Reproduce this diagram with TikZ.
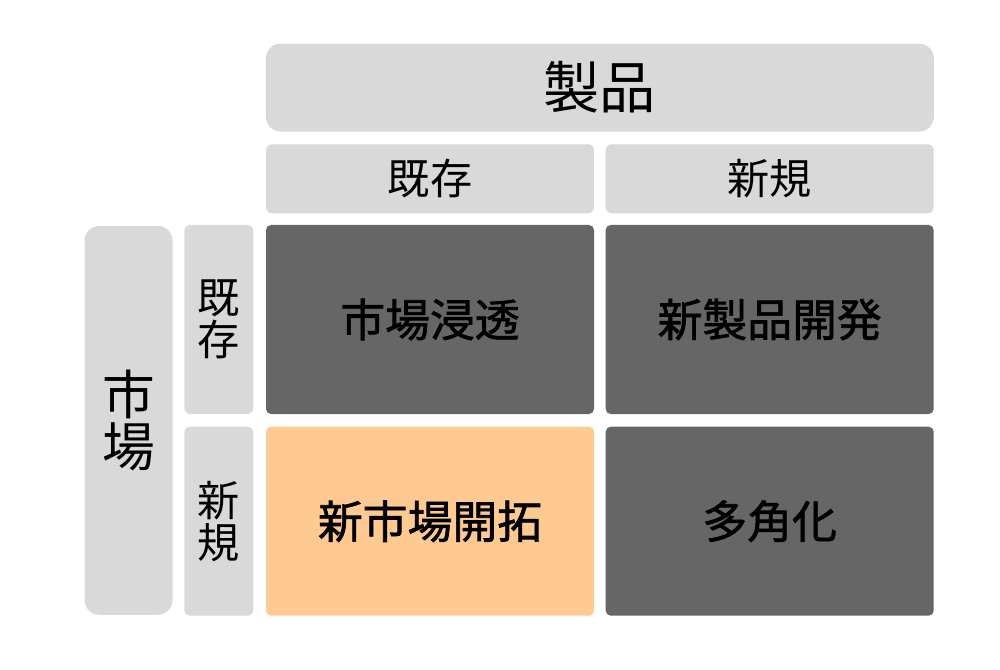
\documentclass[tikz,border=0pt]{standalone}
\usepackage{fontspec}
\setmainfont{Noto Sans CJK JP}
\newfontfamily\jpbold[FakeBold=1.5]{Noto Sans CJK JP}
\usepackage{tikz}
\usetikzlibrary{positioning, calc}
\definecolor{boxgray}{HTML}{D9D9D9}
\definecolor{celldark}{HTML}{666666}
\definecolor{cellorange}{HTML}{FFC992}
\tikzstyle{headbox} = [rectangle, fill=boxgray, inner sep=0pt, rounded corners=0.12cm, align=center]
\tikzstyle{cell} = [rectangle, inner sep=0pt, rounded corners=0.1cm, minimum width=6.56cm, minimum height=3.78cm, font=\jpbold\fontsize{25.5}{28}\selectfont]

\begin{document}
\begin{tikzpicture}
        \useasboundingbox (0,0) rectangle (20,-13.4);
        % matrix cells
        \node (penetration) [cell, fill=celldark] at (8.6,-6.39) {市場浸透};
        \node (newproduct) [cell, fill=celldark, right=0.22cm of penetration] {新製品開発};
        \node (development) [cell, fill=cellorange, below=0.24cm of penetration] {新市場開拓};
        \node (diversification) [cell, fill=celldark, right=0.22cm of development] {多角化};
        % product axis
        \node (colexist) [headbox, above=0.22cm of penetration, minimum width=6.56cm, minimum height=1.38cm, font=\fontsize{24}{26}\selectfont] {既存};
        \node (colnew) [headbox, above=0.22cm of newproduct, minimum width=6.56cm, minimum height=1.38cm, font=\fontsize{24}{26}\selectfont] {新規};
        \coordinate (colmid) at ($(colexist.north)!0.5!(colnew.north)$);
        \node (product) [headbox, rounded corners=0.3cm, above=0.24cm of colmid, minimum width=13.36cm, minimum height=1.76cm, font=\fontsize{32}{34}\selectfont] {製品};
        % market axis
        \node (rowexist) [headbox, left=0.24cm of penetration, minimum width=1.38cm, minimum height=3.78cm, font=\fontsize{24}{24}\selectfont] {既\\存};
        \node (rownew) [headbox, left=0.24cm of development, minimum width=1.38cm, minimum height=3.78cm, font=\fontsize{24}{24}\selectfont] {新\\規};
        \coordinate (rowmid) at ($(rowexist.west)!0.5!(rownew.west)$);
        \node (market) [headbox, rounded corners=0.3cm, left=0.22cm of rowmid, minimum width=1.76cm, minimum height=7.78cm, font=\fontsize{30}{30}\selectfont] {市\\場};
\end{tikzpicture}
\end{document}
